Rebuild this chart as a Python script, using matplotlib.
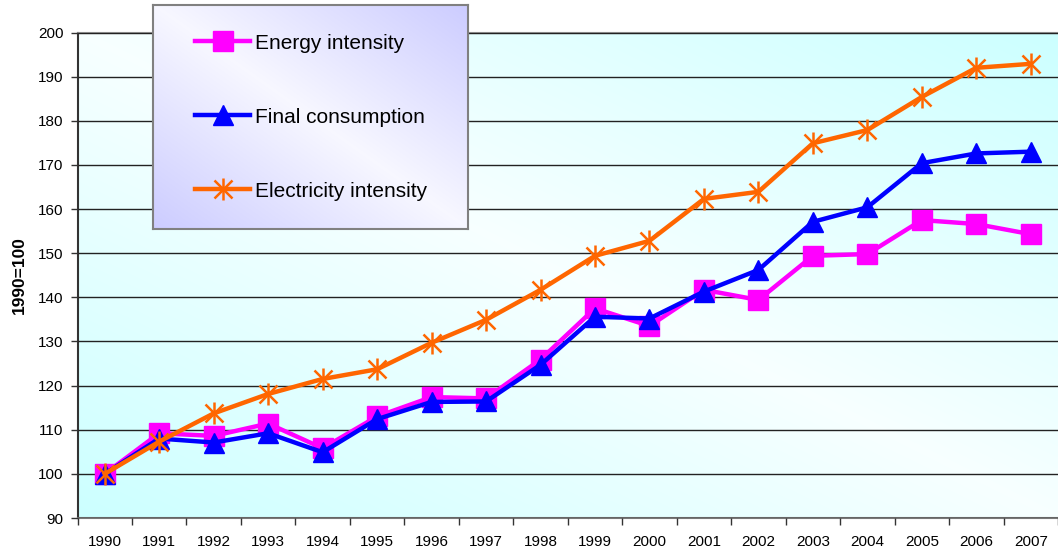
import numpy as np
import matplotlib
matplotlib.use("Agg")
import matplotlib.pyplot as plt
from matplotlib.lines import Line2D
from matplotlib.legend_handler import HandlerTuple

plt.rcParams['font.family'] = ['Liberation Sans', 'DejaVu Sans']

years = [str(y) for y in range(1990, 2008)]
energy_intensity = [100, 109.2, 108.6, 111.4, 105.8, 113.0, 117.4, 117.1, 125.9, 137.5,
                    133.5, 141.7, 139.4, 149.4, 149.8, 157.5, 156.6, 154.3]
final_consumption = [100, 108.0, 107.1, 109.2, 104.9, 112.4, 116.3, 116.4, 124.7, 135.6,
                     135.2, 141.3, 146.2, 157.1, 160.4, 170.4, 172.6, 173.0]
electricity_intensity = [100, 107.3, 113.7, 118.1, 121.5, 123.7, 129.7, 134.9, 141.7, 149.4,
                         152.8, 162.3, 163.9, 174.9, 177.9, 185.4, 192.0, 192.9]
series_labels = ["Energy intensity", "Final consumption", "Electricity intensity"]
y_ticks = list(range(90, 201, 10))

W, H = 1058, 553
fig = plt.figure(figsize=(W / 100, H / 100), dpi=100)
fig.patch.set_facecolor('white')

ax_l, ax_b = 77.5 / W, (H - 518) / H
ax_w, ax_h = 1 - ax_l, (518 - 32.5) / H
ax = fig.add_axes([ax_l, ax_b, ax_w, ax_h])

def diag_gradient(n=200, c_corner=(0.80, 1.0, 1.0), c_mid=(0.97, 1.0, 1.0)):
    xs = np.linspace(0, 1, n)
    X, Y = np.meshgrid(xs, xs[::-1])  # Y up
    t = np.abs(X + Y - 1.0)
    t = np.clip(t, 0, 1)[..., None]
    return c_mid + (np.array(c_corner) - np.array(c_mid)) * t

ax.imshow(diag_gradient(), extent=[0, 1, 0, 1], transform=ax.transAxes,
          aspect='auto', zorder=0, interpolation='bilinear')

x = np.arange(len(years))
ax.plot(x, energy_intensity, color='#FF00FF', lw=3.2, marker='s', ms=14,
        mec='#FF00FF', mfc='#FF00FF', zorder=3)
ax.plot(x, final_consumption, color='#0000FF', lw=3.2, marker='^', ms=14,
        mec='#0000FF', mfc='#0000FF', zorder=4)
ax.plot(x, electricity_intensity, color='#FF6600', lw=3.2, marker='x', ms=13,
        mew=1.8, mec='#FF6600', zorder=5)
ax.plot(x, electricity_intensity, color='#FF6600', lw=0, marker='|', ms=16,
        mew=1.8, mec='#FF6600', zorder=5)

ax.set_xlim(-0.5, len(years) - 0.5)
ax.set_ylim(90, 200)
ax.set_yticks(y_ticks)
ax.set_yticklabels([str(v) for v in y_ticks])
ax.yaxis.grid(True, color='#222222', lw=1.0, zorder=1)
ax.set_axisbelow(False)
ax.set_xticks(np.arange(-0.5, len(years) - 0.4, 1))
ax.set_xticklabels([])
ax.set_xticks(x, minor=True)
ax.set_xticklabels(years, minor=True)
ax.tick_params(axis='x', which='major', length=5, width=1, color='#333333', direction='out')
ax.tick_params(axis='x', which='minor', length=0, pad=12.5, labelsize=11)
ax.tick_params(axis='y', length=5, width=1, color='#333333', pad=5, labelsize=11)

ax.spines['left'].set_color('#333333'); ax.spines['left'].set_linewidth(1.5)
ax.spines['bottom'].set_color('#777777'); ax.spines['bottom'].set_linewidth(1.5)
ax.spines['top'].set_color('#888888'); ax.spines['top'].set_linewidth(1.5)
ax.spines['right'].set_visible(False)

fig.text(19 / W, 1 - 275 / H, "1990=100", rotation=90, ha='center', va='center',
         fontsize=12.5, fontweight='bold')

# legend box
lx0, ly0, lx1, ly1 = 152.7, 5, 468.3, 229.3
lax = fig.add_axes([lx0 / W, 1 - ly1 / H, (lx1 - lx0) / W, (ly1 - ly0) / H])
lax.imshow(diag_gradient(c_corner=(0.80, 0.80, 1.0), c_mid=(0.97, 0.97, 1.0)),
           extent=[0, 1, 0, 1], transform=lax.transAxes, aspect='auto', zorder=0,
           interpolation='bilinear')
lax.set_xlim(0, 1); lax.set_ylim(0, 1)
lax.set_xticks([]); lax.set_yticks([])
for s in lax.spines.values():
    s.set_color('#808080'); s.set_linewidth(1.5)

h1 = Line2D([], [], color='#FF00FF', lw=3.2, marker='s', ms=14, mec='#FF00FF')
h2 = Line2D([], [], color='#0000FF', lw=3.2, marker='^', ms=14, mec='#0000FF')
h3a = Line2D([], [], color='#FF6600', lw=3.2, marker='x', ms=13, mew=1.8)
h3b = Line2D([], [], color='#FF6600', lw=0, marker='|', ms=16, mew=1.8)
leg = lax.legend([h1, h2, (h3a, h3b)], series_labels,
                 handler_map={tuple: HandlerTuple(ndivide=1, pad=0)},
                 loc='center left', bbox_to_anchor=((195 - lx0) / (lx1 - lx0), 0.5),
                 borderaxespad=0, borderpad=0, frameon=False, fontsize=15,
                 handlelength=2.64, handletextpad=0.24, labelspacing=2.64)

fig.savefig("out.png", dpi=100)
